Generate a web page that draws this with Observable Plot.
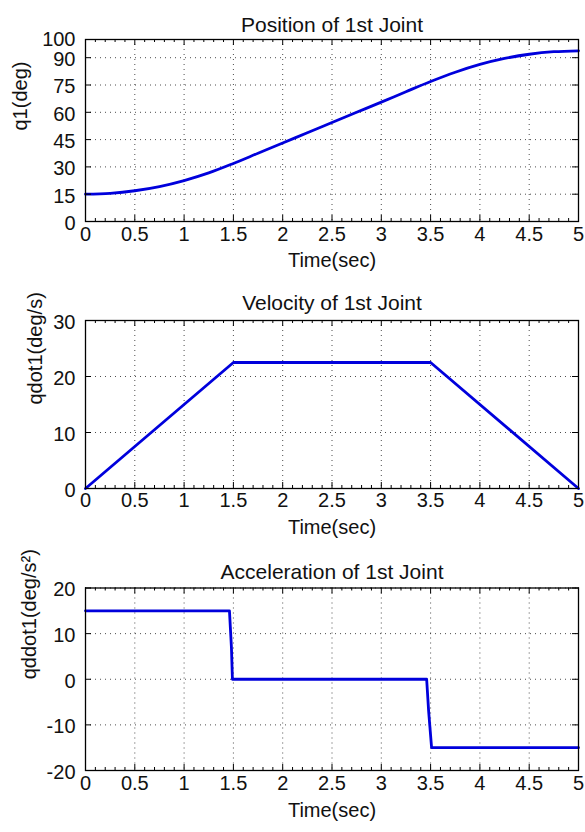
<!DOCTYPE html>
<html><head><meta charset="utf-8">
<script src="https://cdn.jsdelivr.net/npm/d3@7"></script>
<script src="https://cdn.jsdelivr.net/npm/@observablehq/plot@0.6"></script>
<style>
html,body{margin:0;padding:0;background:#fff;}
#chart svg{display:block;}
</style></head><body><div id="chart"></div>
<script>
// ---- data ----
const xTicks = [0, 0.5, 1, 1.5, 2, 2.5, 3, 3.5, 4, 4.5, 5];
const xMinorTicks = [0.1, 0.2, 0.3, 0.4, 0.6, 0.7, 0.8, 0.9, 1.1, 1.2, 1.3, 1.4, 1.6, 1.7, 1.8, 1.9,
  2.1, 2.2, 2.3, 2.4, 2.6, 2.7, 2.8, 2.9, 3.1, 3.2, 3.3, 3.4, 3.6, 3.7, 3.8, 3.9,
  4.1, 4.2, 4.3, 4.4, 4.6, 4.7, 4.8, 4.9];
const posTicks = [0, 15, 30, 45, 60, 75, 90, 100];
const velTicks = [0, 10, 20, 30];
const accTicks = [-20, -10, 0, 10, 20];

const posTime = [0, 0.25, 0.5, 0.75, 1, 1.25, 1.5, 1.75, 2, 2.25, 2.5, 2.75, 3, 3.25, 3.5, 3.75, 4, 4.25, 4.5, 4.75, 5];
const posValue = [15, 15.5, 16.9, 19.2, 22.5, 26.7, 31.9, 37.5, 43.1, 48.8, 54.4, 60.0, 65.6, 71.3, 76.9, 82.0, 86.3, 89.6, 91.9, 93.3, 93.8];

const velTime = [0, 1.5, 3.5, 5];
const velValue = [0, 22.5, 22.5, 0];

const accTime = [0, 1.46, 1.48, 1.49, 3.46, 3.48, 3.51, 5];
const accValue = [15, 15, 7, 0, 0, -7, -15, -15];

const FONT = "'Liberation Sans', Arial, Helvetica, sans-serif";
const W = 585, L = 85, R = 7;

function panel(o) {
  const fh = o.height - o.top - o.bottom;
  const fw = W - L - R;
  const data = o.time.map((t, i) => ({t, v: o.value[i]}));
  const txt = {fontFamily: FONT, fontSize: 20, fill: "#111"};
  const yMax = o.yDomain[1];
  return Plot.plot({
    width: W, height: o.height,
    marginLeft: L, marginRight: R, marginTop: o.top, marginBottom: o.bottom,
    x: {domain: [0, 5], axis: null},
    y: {domain: o.yDomain, axis: null},
    style: {fontFamily: FONT, fontSize: "20px", background: "#fff", color: "#111", overflow: "visible"},
    marks: [
      Plot.ruleX(xTicks, {x: d => d, stroke: "#000", strokeOpacity: 0.7, strokeDasharray: "1,4"}),
      Plot.ruleY(o.yTicks, {y: d => d, stroke: "#000", strokeOpacity: 0.7, strokeDasharray: "1,4"}),
      Plot.line(data, {x: "t", y: "v", stroke: "#0000dc", strokeWidth: 2.8, curve: o.curve || "linear"}),
      Plot.tickX(xTicks, {x: d => d, insetTop: fh - 6, stroke: "#000"}),
      Plot.tickX(xTicks, {x: d => d, insetBottom: fh - 6, stroke: "#000"}),
      Plot.tickX(xMinorTicks, {x: d => d, insetTop: fh - 3, stroke: "#000"}),
      Plot.tickX(xMinorTicks, {x: d => d, insetBottom: fh - 3, stroke: "#000"}),
      Plot.tickY(o.yTicks, {y: d => d, insetRight: fw - 6, stroke: "#000"}),
      Plot.tickY(o.yTicks, {y: d => d, insetLeft: fw - 6, stroke: "#000"}),
      Plot.frame({stroke: "#000", strokeWidth: 1.3}),
      Plot.text(xTicks, {x: d => d, frameAnchor: "bottom", dy: o.tickDy, text: d => String(d), ...txt}),
      Plot.text(o.yTicks.filter(d => d !== yMax), {y: d => d, frameAnchor: "left", dx: -10, dy: 2, textAnchor: "end", text: d => String(d), ...txt}),
      Plot.text(o.yTicks.filter(d => d === yMax), {y: d => d, frameAnchor: "left", dx: -10, dy: o.topLabelDy, textAnchor: "end", text: d => String(d), ...txt}),
      Plot.text([o.title], {frameAnchor: "top", dy: o.titleDy, text: d => d, ...txt, fontSize: 21}),
      Plot.text(["Time(sec)"], {frameAnchor: "bottom", dy: o.xlabelDy, text: d => d, ...txt}),
      Plot.text([o.ylabel], {frameAnchor: "left", dx: o.ylabelX - L, rotate: -90, text: d => d, ...txt})
    ]
  });
}

const chart = document.getElementById("chart");
chart.append(panel({
  height: 272, top: 39, bottom: 51, yDomain: [0, 100], yTicks: posTicks,
  time: posTime, value: posValue, curve: "monotone-x",
  title: "Position of 1st Joint", ylabel: "q1(deg)", ylabelX: 20,
  titleDy: -22, tickDy: 19, xlabelDy: 45, topLabelDy: 0
}));
chart.append(panel({
  height: 276, top: 48, bottom: 60, yDomain: [0, 30], yTicks: velTicks,
  time: velTime, value: velValue,
  title: "Velocity of 1st Joint", ylabel: "qdot1(deg/s)", ylabelX: 35,
  titleDy: -25, tickDy: 18.5, xlabelDy: 45, topLabelDy: 2
}));
chart.append(panel({
  height: 284, top: 39.5, bottom: 62, yDomain: [-20, 20], yTicks: accTicks,
  time: accTime, value: accValue,
  title: "Acceleration of 1st Joint", ylabel: "qddot1(deg/s²)", ylabelX: 29,
  titleDy: -23.5, tickDy: 19.5, xlabelDy: 46, topLabelDy: 2
}));
</script></body></html>
